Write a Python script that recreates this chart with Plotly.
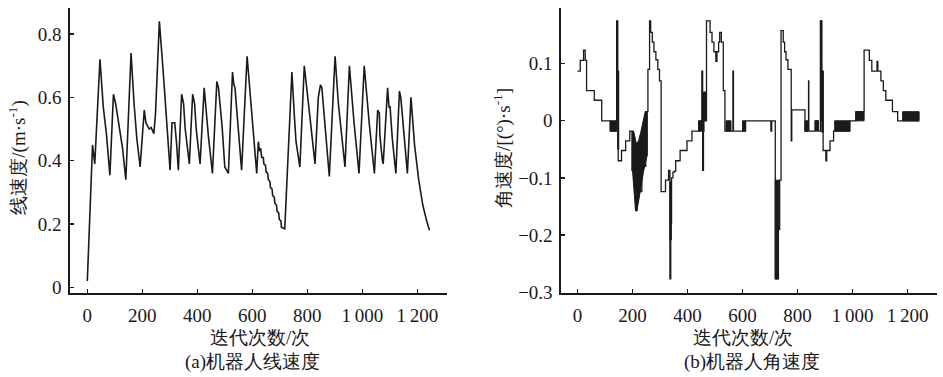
import plotly.graph_objects as go

# ---------------- data: (a) linear velocity ----------------
lin_x = [0, 19, 27, 46, 58, 70, 82, 95, 103, 110, 118, 128, 140, 159, 170, 180, 192,
         201, 207, 213, 218, 225, 232, 238, 242, 248, 262, 276, 288, 301,
         308, 318, 325, 331, 343, 350, 356, 371, 383, 390, 396, 410, 425, 440, 455,
         471, 477, 490, 500, 513, 528, 533, 537, 561, 581, 598, 616,
         622, 626, 630, 634, 640, 642, 648, 650, 656, 658, 664, 666, 672, 674, 680, 682, 688, 690, 696, 698, 704, 706, 718,
         744, 753, 759, 773, 789, 808, 828, 840, 848, 853, 880,
         901, 913, 937, 953, 970, 988, 1007, 1025, 1044, 1056, 1062, 1064, 1073, 1076,
         1092, 1097, 1101, 1109, 1122, 1135, 1140, 1164, 1177, 1190, 1205, 1220, 1234, 1244]
lin_y = [0.02, 0.45, 0.39, 0.72, 0.57, 0.48, 0.354, 0.61, 0.58, 0.54, 0.50, 0.44, 0.34, 0.74, 0.58, 0.47, 0.38,
         0.50, 0.56, 0.52, 0.51, 0.50, 0.505, 0.49, 0.485, 0.55, 0.84, 0.68, 0.52, 0.37,
         0.52, 0.52, 0.45, 0.37, 0.61, 0.58, 0.50, 0.39, 0.61, 0.58, 0.50, 0.39, 0.63, 0.48, 0.36,
         0.65, 0.63, 0.51, 0.38, 0.36, 0.68, 0.64, 0.63, 0.37, 0.73, 0.55, 0.36,
         0.46, 0.43, 0.44, 0.41, 0.41, 0.39, 0.385, 0.365, 0.36, 0.34, 0.335, 0.315, 0.31, 0.29, 0.285, 0.265, 0.26, 0.24, 0.235, 0.215, 0.21, 0.19, 0.185,
         0.68, 0.54, 0.46, 0.38, 0.70, 0.55, 0.39, 0.60, 0.64, 0.63, 0.35,
         0.73, 0.58, 0.38, 0.70, 0.52, 0.36, 0.70, 0.52, 0.36, 0.56, 0.55, 0.48, 0.40, 0.39,
         0.63, 0.57, 0.57, 0.47, 0.36, 0.62, 0.60, 0.36, 0.60, 0.45, 0.34, 0.26, 0.21, 0.18]

# ---------------- data: (b) angular velocity (step line) ----------------
ang_x = [0, 10, 22, 28, 33, 61, 88, 119, 141, 143, 146, 148, 160, 163, 175, 190,
         198, 212, 216, 228, 234, 244, 248,
         256, 262, 266, 272, 278, 285, 292, 298, 304, 320, 331, 336, 339, 342, 347, 352, 357, 373, 398, 416, 446,
         452, 455, 458, 462, 465, 469, 482, 489, 496, 503, 507, 513, 517, 523, 530, 536, 565, 567, 611,
         703, 706, 719, 729, 735, 740, 748, 753, 758, 765, 777, 779, 827, 840, 841, 864, 875,
         883, 888, 893, 903, 906, 918, 931, 990, 1012, 1042, 1061, 1070, 1089, 1092, 1103, 1112, 1121, 1145, 1164, 1242]
ang_y = [0.087, 0.106, 0.124, 0.106, 0.053, 0.036, 0.0, -0.018, 0.0, 0.175, 0.087, -0.07, -0.052, -0.052, -0.035, -0.018,
         -0.087, -0.157, -0.04, -0.124, -0.015, -0.08, 0.016,
         0.09, 0.175, 0.155, 0.138, 0.121, 0.107, 0.09, 0.07, -0.124, -0.104, -0.087, -0.277, -0.18, -0.10, -0.09, -0.088, -0.07, -0.052, -0.035, -0.018, 0.0,
         0.087, -0.087, 0.0, 0.05, 0.0, 0.175, 0.155, 0.138, 0.121, 0.104, 0.121, 0.138, 0.155, 0.138, 0.053, -0.018, 0.087, -0.018, 0.0,
         -0.018, 0.0, -0.277, -0.19, -0.104, 0.158, 0.138, 0.121, 0.107, 0.09, -0.035, 0.019, -0.018, 0.07, -0.018, 0.0, -0.018,
         0.175, 0.087, -0.052, -0.07, -0.052, -0.035, -0.018, 0.0, 0.016, 0.124, 0.106, 0.087, 0.104, 0.087, 0.07, 0.053, 0.036, 0.016, 0.0, 0.0]

# rapid-oscillation bands (drawn solid): start, end, low, high
band_x0 = [119, 142, 146, 336, 440, 455, 540, 600, 719, 827, 864, 884, 888, 935, 1012, 1182]
band_x1 = [141, 146, 150, 341, 453, 460, 558, 611, 731, 838, 875, 888, 893, 990, 1042, 1242]
band_lo = [-0.018, 0.0, -0.05, -0.209, -0.018, -0.02, -0.018, -0.018, -0.277, -0.018, -0.018, 0.0, -0.02, -0.018, 0.0, 0.0]
band_hi = [0.0, 0.175, 0.087, -0.107, 0.0, 0.05, 0.0, 0.0, -0.104, 0.0, 0.0, 0.175, 0.087, 0.0, 0.016, 0.016]

# dense diagonal oscillation zone near iteration 200-255 (upper edge, then lower edge back)
zone_x = [198, 204, 214, 222, 230, 236, 242, 246, 254, 254, 250, 240, 228, 216, 211, 206, 200, 198]
zone_y = [-0.018, -0.018, -0.04, -0.035, -0.02, -0.005, 0.005, 0.016, 0.016, -0.06, -0.067, -0.089, -0.124, -0.158, -0.158, -0.12, -0.087, -0.087]

x_tickvals = [0, 200, 400, 600, 800, 1000, 1200]
x_ticktext = ["0", "200", "400", "600", "800", "1\u2009000", "1\u2009200"]
lin_tickvals = [0, 0.2, 0.4, 0.6, 0.8]
lin_ticktext = ["0", "0.2", "0.4", "0.6", "0.8"]
ang_tickvals = [-0.3, -0.2, -0.1, 0, 0.1]
ang_ticktext = ["\u22120.3", "\u22120.2", "\u22120.1", "0", "0.1"]

NUM_FONT = "Liberation Serif"
TXT_FONT = "Liberation Serif"
INK = "#1a1a1a"

fig = go.Figure()
fig.add_trace(go.Scatter(x=lin_x, y=lin_y, mode="lines", line=dict(color=INK, width=1.6),
                         xaxis="x", yaxis="y", showlegend=False, hoverinfo="skip"))

for x0, x1, lo, hi in zip(band_x0, band_x1, band_lo, band_hi):
    fig.add_trace(go.Scatter(x=[x0, x1, x1, x0, x0], y=[lo, lo, hi, hi, lo], mode="lines",
                             fill="toself", fillcolor=INK, line=dict(color=INK, width=1),
                             xaxis="x2", yaxis="y2", showlegend=False, hoverinfo="skip"))
fig.add_trace(go.Scatter(x=zone_x, y=zone_y, mode="lines",
                         fill="toself", fillcolor=INK, line=dict(color=INK, width=1),
                         xaxis="x2", yaxis="y2", showlegend=False, hoverinfo="skip"))
fig.add_trace(go.Scatter(x=ang_x, y=ang_y, mode="lines", line=dict(color=INK, width=1.3, shape="hv"),
                         xaxis="x2", yaxis="y2", showlegend=False, hoverinfo="skip"))

W, H = 943, 377
def px_x(p): return p / W
def px_y(p): return 1 - p / H

axis_common = dict(showline=True, linecolor=INK, linewidth=1.6, ticks="inside", ticklen=4,
                   tickcolor=INK, tickwidth=1.3, showgrid=False, zeroline=False,
                   tickfont=dict(family=NUM_FONT, size=19, color=INK), mirror=False)

fig.update_layout(
    width=W, height=H, margin=dict(l=0, r=0, t=0, b=0),
    paper_bgcolor="white", plot_bgcolor="white",
    xaxis=dict(domain=[px_x(70), px_x(447)], range=[-63, 1308], anchor="y",
               tickvals=x_tickvals, ticktext=x_ticktext, ticklabelstandoff=5, **axis_common),
    yaxis=dict(domain=[px_y(301), px_y(8)], range=[-0.018, 0.883], anchor="x",
               tickvals=lin_tickvals, ticktext=lin_ticktext, ticklabelstandoff=3, **axis_common),
    xaxis2=dict(domain=[px_x(561), px_x(937)], range=[-60, 1307], anchor="y2",
                tickvals=x_tickvals, ticktext=x_ticktext, ticklabelstandoff=5, **axis_common),
    yaxis2=dict(domain=[px_y(301), px_y(8)], range=[-0.3017, 0.198], anchor="x2",
                tickvals=ang_tickvals, ticktext=ang_ticktext, ticklabelstandoff=3, **axis_common),
)

ann_font = dict(family=TXT_FONT, size=19, color=INK)
annotations = [
    dict(text="迭代次数/次", x=px_x(260), y=px_y(347), xanchor="center", yanchor="middle"),
    dict(text="(a)机器人线速度", x=px_x(252), y=px_y(372), xanchor="center", yanchor="middle"),
    dict(text="迭代次数/次", x=px_x(743), y=px_y(347), xanchor="center", yanchor="middle"),
    dict(text="(b)机器人角速度", x=px_x(752), y=px_y(372), xanchor="center", yanchor="middle"),
    dict(text="线速度/(m·s<sup>-1</sup>)", x=px_x(18), y=px_y(162), xanchor="center", yanchor="middle", textangle=-90),
    dict(text="角速度/[(°)·s<sup>-1</sup>]", x=px_x(503), y=px_y(152), xanchor="center", yanchor="middle", textangle=-90),
]
for a in annotations:
    a.update(xref="paper", yref="paper", showarrow=False, font=ann_font)
fig.update_layout(annotations=annotations)

fig.write_html("out.html", config={"displayModeBar": False, "staticPlot": True},
               post_script="document.body.style.margin='0';")
